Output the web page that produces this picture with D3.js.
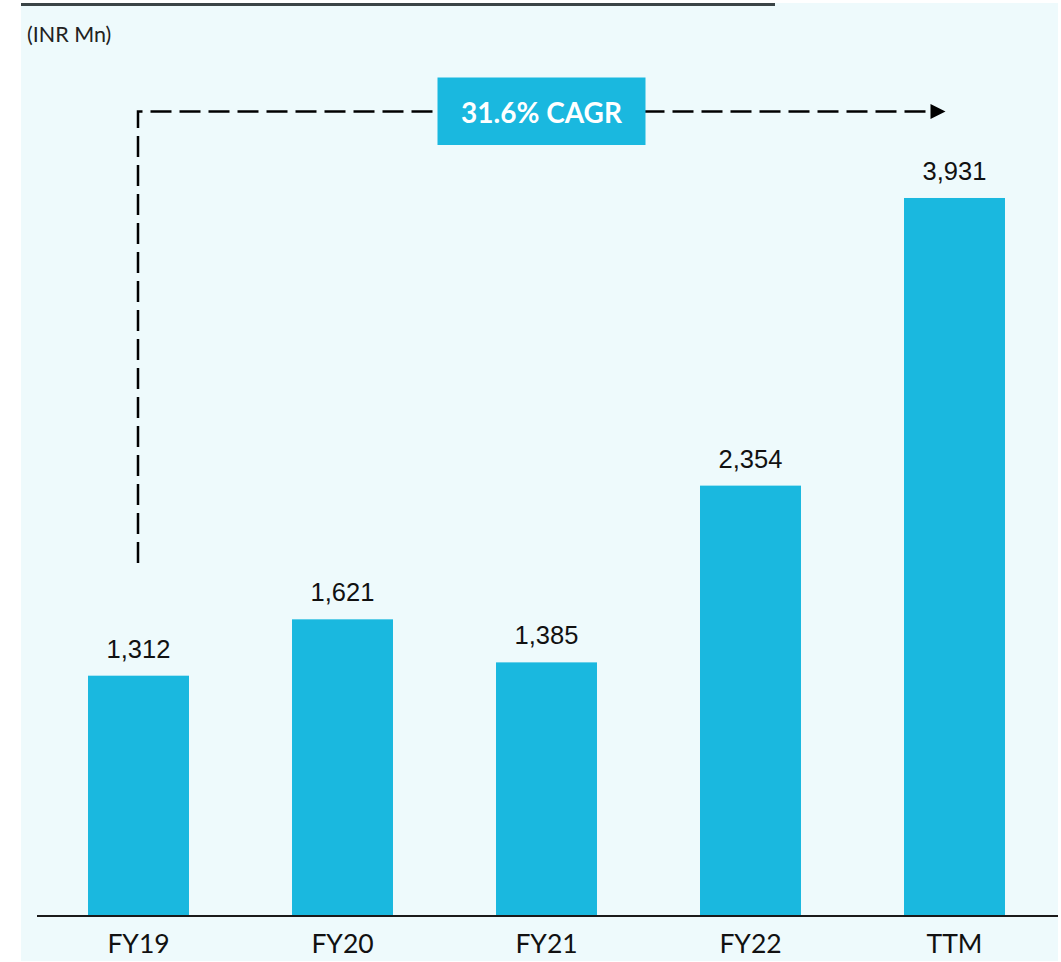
<!DOCTYPE html>
<html>
<head>
<meta charset="utf-8">
<script src="https://cdn.jsdelivr.net/npm/d3@7"></script>
<style>
html,body{margin:0;padding:0;background:#ffffff;}
svg{display:block;}
</style>
</head>
<body>
<svg id="chart" width="1061" height="962"></svg>
<script>
const categories = ["FY19", "FY20", "FY21", "FY22", "TTM"];
const values = [1312, 1621, 1385, 2354, 3931];
const valueLabels = ["1,312", "1,621", "1,385", "2,354", "3,931"];
const unitLabel = "(INR Mn)";
const cagrLabel = "31.6% CAGR";

const svg = d3.select("#chart");
const barColor = "#1ab8df";

// background panel
svg.append("rect").attr("x", 21).attr("y", 3).attr("width", 1037).attr("height", 958).attr("fill", "#eefafc");
svg.append("rect").attr("x", 21).attr("y", 3).attr("width", 754).attr("height", 3).attr("fill", "#3b4446");

const x = d3.scaleBand().domain(categories).range([36.5, 1056.5]).paddingInner(0.505).paddingOuter(0.2525);
const y = d3.scaleLinear().domain([0, 4000]).range([915, 185.4]);

svg.append("text").attr("x", 27).attr("y", 42).text(unitLabel)
  .attr("font-family", "Lato, sans-serif").attr("font-size", 21.5).attr("fill", "#222");

// bars
svg.selectAll("rect.bar").data(values).enter().append("rect").attr("class", "bar")
  .attr("x", (d, i) => x(categories[i]))
  .attr("y", d => y(d))
  .attr("width", x.bandwidth())
  .attr("height", d => y(0) - y(d))
  .attr("fill", barColor);

// value labels
svg.selectAll("text.val").data(values).enter().append("text").attr("class", "val")
  .attr("x", (d, i) => x(categories[i]) + x.bandwidth() / 2)
  .attr("y", d => y(d) - 18)
  .attr("text-anchor", "middle")
  .attr("font-family", "'Liberation Sans', Arial, sans-serif").attr("font-size", 25.5).attr("fill", "#111")
  .text((d, i) => valueLabels[i]);

// x axis
const xAxis = d3.axisBottom(x).tickSize(0).tickPadding(0);
const gx = svg.append("g").attr("transform", `translate(0,${y(0)})`).call(xAxis);
gx.select(".domain").remove();
gx.selectAll("text").attr("font-family", "Lato, sans-serif").attr("font-size", 26.5).attr("fill", "#111")
  .attr("dy", null).attr("y", 38);
svg.append("line").attr("x1", 37).attr("x2", 1058).attr("y1", y(0) + 1).attr("y2", y(0) + 1)
  .attr("stroke", "#1a1a1a").attr("stroke-width", 2);

// CAGR annotation
const xStart = x(categories[0]) + x.bandwidth() / 2 - 0.5;
const xEnd = x(categories[categories.length - 1]) + x.bandwidth() / 2 - 9;
const yTop = 111.5;
svg.append("path")
  .attr("d", `M${xStart},${563} L${xStart},${yTop} L${xEnd - 14},${yTop}`)
  .attr("fill", "none").attr("stroke", "#000").attr("stroke-width", 2.5)
  .attr("stroke-dasharray", "21,8").attr("stroke-dashoffset", 0);
svg.append("path")
  .attr("d", `M${xEnd - 15},${yTop - 7.5} L${xEnd},${yTop} L${xEnd - 15},${yTop + 7.5} Z`)
  .attr("fill", "#000");

const boxCx = 541.5;
svg.append("rect").attr("x", boxCx - 104).attr("y", 77.5).attr("width", 208).attr("height", 67.5).attr("fill", barColor);
svg.append("text").attr("x", boxCx).attr("y", 122.5).attr("text-anchor", "middle")
  .attr("font-family", "Lato, sans-serif").attr("font-weight", "bold").attr("font-size", 28).attr("fill", "#fff")
  .text(cagrLabel);
</script>
</body>
</html>
